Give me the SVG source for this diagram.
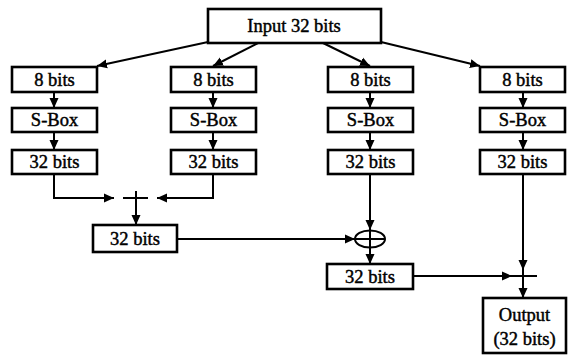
<svg xmlns="http://www.w3.org/2000/svg" width="568" height="356" viewBox="0 0 568 356">
  <style>
    .box { fill: #fff; stroke: #000; stroke-width: 2.6; }
    .lbl { font-family: 'Liberation Serif', 'DejaVu Serif', serif; font-size: 18.5px; fill: #000; stroke: #000; stroke-width: 0.45; text-anchor: middle; }
    .wire { fill: none; stroke: #000; stroke-width: 2; }
    .arr { marker-end: url(#head); }
  </style>
  <defs>
    <marker id="head" markerUnits="userSpaceOnUse" markerWidth="10" markerHeight="10" viewBox="0 0 10 10" refX="10" refY="5" orient="auto">
      <path d="M0,0.5 L10,5 L0,9.5 Z" fill="#000"/>
    </marker>
  </defs>

  <!-- connectors -->
  <g id="connectors">
    <!-- input fan-out -->
    <path class="wire arr" d="M208,42 L97,66"/>
    <path class="wire arr" d="M258,43 L213,66"/>
    <path class="wire arr" d="M323,43 L370,66"/>
    <path class="wire arr" d="M381,42 L480,66"/>
    <!-- 8 bits -> S-Box -> 32 bits, per lane -->
    <path class="wire arr" d="M54,92 V108"/>
    <path class="wire arr" d="M54,132 V150"/>
    <path class="wire arr" d="M213,92 V108"/>
    <path class="wire arr" d="M213,132 V150"/>
    <path class="wire arr" d="M370,92 V108"/>
    <path class="wire arr" d="M370,132 V150"/>
    <path class="wire arr" d="M523,92 V108"/>
    <path class="wire arr" d="M523,132 V150"/>
    <!-- lanes 1 and 2 into the adder -->
    <path class="wire arr" d="M54,174 V198 H114"/>
    <path class="wire arr" d="M213,174 V198 H157"/>
    <!-- adder symbol -->
    <path class="wire" d="M123,198 H148 M136,191 V206"/>
    <path class="wire arr" d="M136,206 V225"/>
    <!-- sum into XOR -->
    <path class="wire arr" d="M177,239 H355"/>
    <path class="wire arr" d="M370,174 V230"/>
    <ellipse cx="370" cy="239" rx="15" ry="8.5" class="wire"/>
    <path class="wire" d="M355,239 H385 M370,230 V248"/>
    <path class="wire arr" d="M370,248 V264"/>
    <!-- XOR result and lane 4 into final adder -->
    <path class="wire arr" d="M413,276 H512"/>
    <path class="wire arr" d="M523,174 V270"/>
    <path class="wire" d="M512,276 H537 M523,268 V283"/>
    <path class="wire arr" d="M523,283 V298"/>
  </g>

  <g id="input">
    <rect class="box" x="208" y="9" width="173" height="34"/>
    <text class="lbl" x="294" y="32">Input 32 bits</text>
  </g>

  <g id="lane1">
    <g id="l1-in"><rect class="box" x="12" y="67" width="85" height="25"/><text class="lbl" x="54.5" y="86">8 bits</text></g>
    <g id="l1-sbox"><rect class="box" x="12" y="108" width="85" height="24"/><text class="lbl" x="54.5" y="126">S-Box</text></g>
    <g id="l1-out"><rect class="box" x="12" y="150" width="85" height="24"/><text class="lbl" x="54.5" y="168">32 bits</text></g>
  </g>
  <g id="lane2">
    <g id="l2-in"><rect class="box" x="171" y="67" width="85" height="25"/><text class="lbl" x="213.5" y="86">8 bits</text></g>
    <g id="l2-sbox"><rect class="box" x="171" y="108" width="85" height="24"/><text class="lbl" x="213.5" y="126">S-Box</text></g>
    <g id="l2-out"><rect class="box" x="171" y="150" width="85" height="24"/><text class="lbl" x="213.5" y="168">32 bits</text></g>
  </g>
  <g id="lane3">
    <g id="l3-in"><rect class="box" x="328" y="67" width="85" height="25"/><text class="lbl" x="370.5" y="86">8 bits</text></g>
    <g id="l3-sbox"><rect class="box" x="328" y="108" width="85" height="24"/><text class="lbl" x="370.5" y="126">S-Box</text></g>
    <g id="l3-out"><rect class="box" x="328" y="150" width="85" height="24"/><text class="lbl" x="370.5" y="168">32 bits</text></g>
  </g>
  <g id="lane4">
    <g id="l4-in"><rect class="box" x="480" y="67" width="85" height="25"/><text class="lbl" x="522.5" y="86">8 bits</text></g>
    <g id="l4-sbox"><rect class="box" x="480" y="108" width="85" height="24"/><text class="lbl" x="522.5" y="126">S-Box</text></g>
    <g id="l4-out"><rect class="box" x="480" y="150" width="85" height="24"/><text class="lbl" x="522.5" y="168">32 bits</text></g>
  </g>

  <g id="sum12">
    <rect class="box" x="93" y="225" width="84" height="27"/>
    <text class="lbl" x="135" y="245">32 bits</text>
  </g>
  <g id="xor-out">
    <rect class="box" x="327" y="264" width="86" height="25"/>
    <text class="lbl" x="370" y="283">32 bits</text>
  </g>
  <g id="output">
    <rect class="box" x="483" y="298" width="83" height="55"/>
    <text class="lbl" x="524.5" y="321">Output</text>
    <text class="lbl" x="524.5" y="345">(32 bits)</text>
  </g>
</svg>
